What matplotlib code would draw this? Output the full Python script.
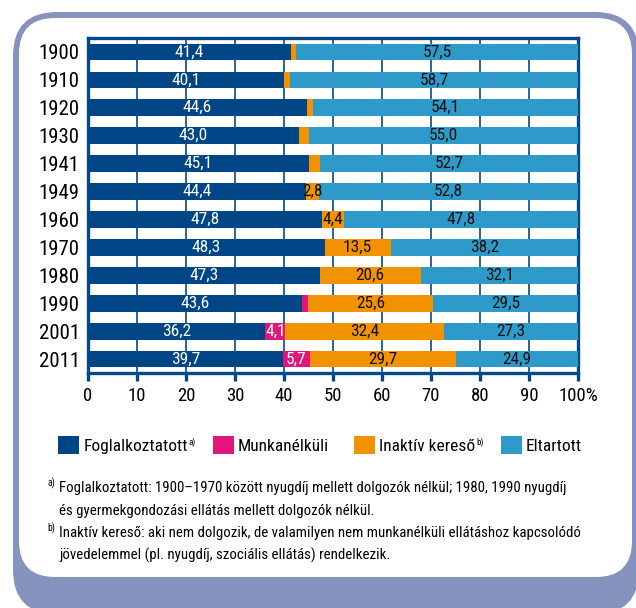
import matplotlib.pyplot as plt
from matplotlib import font_manager
from matplotlib.patches import FancyBboxPatch
from matplotlib.transforms import ScaledTranslation

# pick a narrow face if one is installed
installed = {f.name for f in font_manager.fontManager.ttflist}
FONT = "DejaVu Sans"
for cand in ["Liberation Sans Narrow", "Roboto Condensed", "Open Sans Condensed", "Noto Sans"]:
    if cand in installed:
        FONT = cand
        break
plt.rcParams["font.family"] = [FONT, "DejaVu Sans"]

# data (percent of population)
years = ["1900", "1910", "1920", "1930", "1941", "1949",
         "1960", "1970", "1980", "1990", "2001", "2011"]
employed = [41.4, 40.1, 44.6, 43.0, 45.1, 44.4, 47.8, 48.3, 47.3, 43.6, 36.2, 39.7]
unemployed = [0.0, 0.0, 0.0, 0.0, 0.0, 0.0, 0.0, 0.0, 0.0, 1.3, 4.1, 5.7]
inactive = [1.1, 1.2, 1.3, 2.0, 2.2, 2.8, 4.4, 13.5, 20.6, 25.6, 32.4, 29.7]
dependent = [57.5, 58.7, 54.1, 55.0, 52.7, 52.8, 47.8, 38.2, 32.1, 29.5, 27.3, 24.9]

names = ["Foglalkoztatott", "Munkanélküli", "Inaktív kereső", "Eltartott"]
name_marks = ["a)", "", "b)", ""]
colors = ["#004687", "#E2157B", "#F39200", "#2E9AC9"]
text_colors = ["white", "white", "#111111", "#111111"]
xticks = list(range(0, 101, 10))

footnotes = [
    ("a)", ["Foglalkoztatott: 1900–1970 között nyugdíj mellett dolgozók nélkül; 1980, 1990 nyugdíj",
            "és gyermekgondozási ellátás mellett dolgozók nélkül."]),
    ("b)", ["Inaktív kereső: aki nem dolgozik, de valamilyen nem munkanélküli ellátáshoz kapcsolódó",
            "jövedelemmel (pl. nyugdíj, szociális ellátás) rendelkezik."]),
]

BLUE = "#004A8C"
LAV = "#8593BE"
W, H = 636, 608

fig = plt.figure(figsize=(W / 100, H / 100), dpi=100)

# background frame, drawn in pixel coordinates
bg = fig.add_axes([0, 0, 1, 1])
bg.set_xlim(0, W)
bg.set_ylim(H, 0)
bg.axis("off")
bg.add_patch(FancyBboxPatch((13, 12), 626, 602, boxstyle="round,pad=0,rounding_size=44",
                            fc=LAV, ec="none"))
bg.add_patch(FancyBboxPatch((19, 18), 613, 559, boxstyle="round,pad=0,rounding_size=36",
                            fc="white", ec="none"))

ax = fig.add_axes([88 / W, 1 - 373 / H, 490 / W, 335 / H])

series = [employed, unemployed, inactive, dependent]
pos = list(range(len(years)))
left = [0.0] * len(years)
handles = []
for vals, col, tcol in zip(series, colors, text_colors):
    bars = ax.barh(pos, vals, left=left, height=0.6, color=col, linewidth=0, zorder=3)
    handles.append(bars)
    for i, v in enumerate(vals):
        if v >= 2.5:
            ax.text(left[i] + v / 2, i, f"{v:.1f}".replace(".", ","), ha="center", va="center",
                    color=tcol, fontsize=12.5, zorder=4)
    left = [l + v for l, v in zip(left, vals)]

ax.set_xlim(0, 100)
ax.set_ylim(11.5, -0.5)
ax.set_yticks(pos)
ax.set_yticklabels(years)
ax.set_xticks(xticks)
ax.set_xticklabels([str(t) for t in xticks[:-1]] + ["100%"])
# keep "100" centred on its tick, let the % sign hang to the right
lab = ax.get_xticklabels()[-1]
lab.set_transform(lab.get_transform() + ScaledTranslation(0.08, 0, fig.dpi_scale_trans))

ax.xaxis.grid(True, color=BLUE, lw=1.2)
ax.set_axisbelow(True)
for sp in ax.spines.values():
    sp.set_color(BLUE)
    sp.set_linewidth(2.4)
ax.tick_params(axis="x", direction="out", length=6, width=2.4, color=BLUE,
               labelsize=13.5, pad=4)
ax.tick_params(axis="y", length=0, pad=6, labelsize=15)

leg = fig.legend(handles, names, loc="center left", bbox_to_anchor=(58 / W, 1 - 445 / H),
                 ncol=4, frameon=False, fontsize=12.5, handlelength=1.2, handleheight=1.2,
                 handletextpad=0.25, columnspacing=1.45, borderpad=0, borderaxespad=0)
fig.canvas.draw()
renderer = fig.canvas.get_renderer()
# small superscript marks after two of the legend entries
for txt, mark in zip(leg.get_texts(), name_marks):
    if mark:
        bb = txt.get_window_extent(renderer)
        fig.text((bb.x1 + 1) / W, (bb.y1 + 1) / H, mark, fontsize=6.5, va="top", ha="left")

y0 = 488
for mark, lines in footnotes:
    bg.text(47, y0 - 5, mark, fontsize=7, va="center")
    for line in lines:
        bg.text(59, y0, line, fontsize=10.7, va="center")
        y0 += 22.5

fig.savefig("out.png", dpi=100)
